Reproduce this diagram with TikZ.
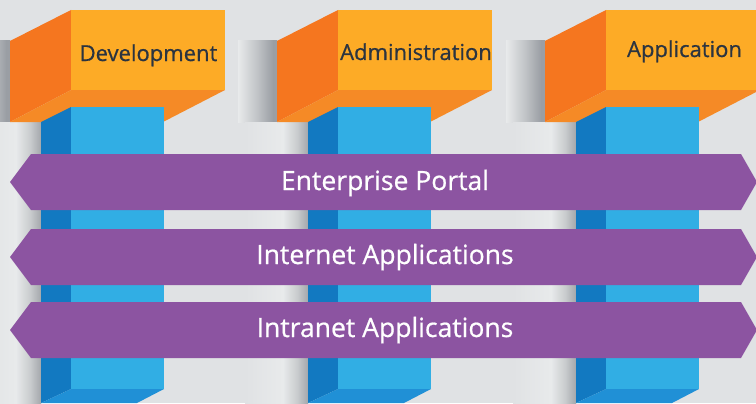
\documentclass[tikz,border=0pt]{standalone}
\usepackage{fontspec}
\setmainfont{Open Sans}
\newfontfamily\labelfont[FakeBold=0.7]{Open Sans}
\definecolor{cBack}{HTML}{E0E2E4}
\definecolor{cPale}{HTML}{E8EAEB}
\definecolor{cHeadMid}{HTML}{C0C3C6}
\definecolor{cHeadDark}{HTML}{9A9EA4}
\definecolor{cColMid}{HTML}{CACDCF}
\definecolor{cColDark}{HTML}{A4A7AB}
\definecolor{cBoxFront}{HTML}{FDAB26}
\definecolor{cBoxSide}{HTML}{F5761F}
\definecolor{cBoxUnder}{HTML}{F58A26}
\definecolor{cColFront}{HTML}{31AEE4}
\definecolor{cColSide}{HTML}{1279C1}
\definecolor{cColUnder}{HTML}{2090D6}
\definecolor{cBand}{HTML}{8C54A1}
\definecolor{cInk}{HTML}{2B3440}
\pgfdeclarehorizontalshading{headfade}{100bp}{
  color(0bp)=(cPale); color(25bp)=(cPale);
  color(50bp)=(cHeadMid);
  color(70bp)=(cHeadDark);
  color(75bp)=(cHeadDark);
  color(100bp)=(cHeadDark)}
\pgfdeclarehorizontalshading{columnfade}{100bp}{
  color(0bp)=(cBack); color(25bp)=(cBack);
  color(55bp)=(cPale);
  color(66bp)=(cColMid);
  color(75bp)=(cColDark);
  color(100bp)=(cColDark)}
\tikzset{
  headlabel/.style={font=\labelfont\fontsize{16.5}{18}\selectfont, text=cInk, inner sep=0pt, anchor=base},
  bandlabel/.style={font=\labelfont\fontsize{19.9}{22}\selectfont, text=white, inner sep=0pt, anchor=base},
  ribbonshape/.style={fill=cBand},
}
\begin{document}
\begin{tikzpicture}[x=0.75pt,y=-0.75pt]
  \useasboundingbox (0,0) rectangle (756,403);
  \fill[cBack] (0,0) rectangle (756,403);
  \begin{scope}
    \clip (0,0) rectangle (756,403);
    \foreach \dx in {0,267,535} {
      \begin{scope}[shift={(\dx,0)}]
        \shade[shading=headfade] (-29,41) rectangle (10,122);
        \shade[shading=columnfade] (-22,122) rectangle (41,403);
        \fill[cBoxSide] (10,41) -- (71,10) -- (71,90) -- (10,122) -- cycle;
        \fill[cBoxUnder] (10,122) -- (71,90) -- (225,90) -- (163,122) -- cycle;
        \fill[cBoxFront] (71,10) rectangle (225,90);
        \fill[cColSide] (41,122) -- (71,107) -- (71,389) -- (41,403) -- cycle;
        \fill[cColFront] (71,107) rectangle (164,389);
        \fill[cColUnder] (41,403) -- (71,389) -- (164,389) -- (137,403) -- cycle;
      \end{scope}
    }
    \foreach \ytop in {154,229,302} {
      \path[ribbonshape] (10,\ytop+28) -- (31,\ytop) -- (741,\ytop) -- (757,\ytop+28) -- (741,\ytop+56) -- (31,\ytop+56) -- cycle;
    }
  \end{scope}
  \node[headlabel] (dev) at (148.5,61) {Development};
  \node[headlabel] (adm) at (416,60) {Administration};
  \node[headlabel] (app) at (684.5,57) {Application};
  \node[bandlabel] (portal) at (385,190) {Enterprise Portal};
  \node[bandlabel] (inet) at (385,264) {Internet Applications};
  \node[bandlabel] (intra) at (385,337) {Intranet Applications};
\end{tikzpicture}
\end{document}
